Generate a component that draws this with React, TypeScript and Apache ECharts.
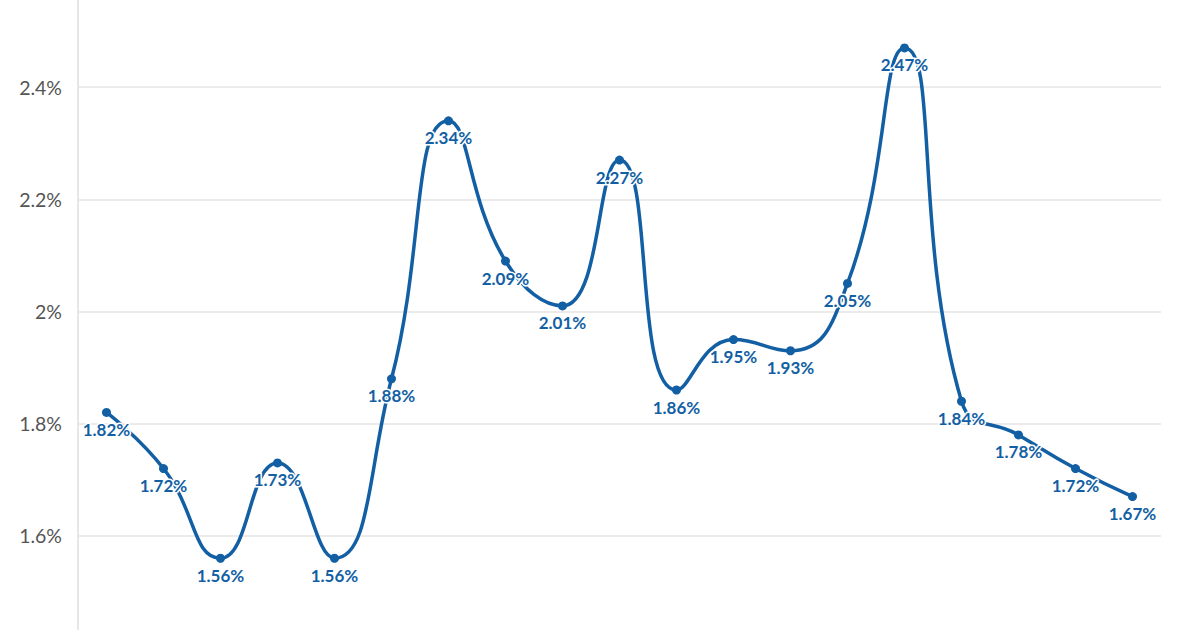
import React, { useEffect, useRef } from "react";
import * as echarts from "echarts";

const categories = [
  "1", "2", "3", "4", "5", "6", "7", "8", "9", "10",
  "11", "12", "13", "14", "15", "16", "17", "18", "19",
];
const values = [
  1.82, 1.72, 1.56, 1.73, 1.56, 1.88, 2.34, 2.09, 2.01, 2.27,
  1.86, 1.95, 1.93, 2.05, 2.47, 1.84, 1.78, 1.72, 1.67,
];
const yMin = 1.4;
const yMax = 2.6;
const yStep = 0.2;
const shownTicks = ["1.6%", "1.8%", "2%", "2.2%", "2.4%"];

export default function App() {
  const ref = useRef<HTMLDivElement>(null);
  useEffect(() => {
    document.body.style.margin = "0";
    const chart = echarts.init(ref.current!, null, { renderer: "svg" });
    chart.setOption({
      animation: false,
      backgroundColor: "#ffffff",
      grid: { left: 78, right: 39, top: 0, bottom: 0, containLabel: false },
      xAxis: {
        type: "category",
        data: categories,
        boundaryGap: true,
        axisLine: { show: false },
        axisTick: { show: false },
        axisLabel: { show: false },
        splitLine: { show: false },
      },
      yAxis: {
        type: "value",
        min: yMin,
        max: yMax,
        interval: yStep,
        axisLine: { show: true, lineStyle: { color: "#e6e6e6", width: 2 } },
        axisTick: { show: false },
        axisLabel: {
          color: "#555555",
          fontFamily: "Lato",
          fontSize: 19.5,
          margin: 16,
          formatter: (v: number) => {
            const s = `${Math.round(v * 10) / 10}%`;
            return shownTicks.includes(s) ? s : "";
          },
        },
        splitLine: { show: true, lineStyle: { color: "#ebebeb", width: 2 } },
      },
      series: [
        {
          type: "line",
          data: values,
          smooth: 0.5,
          symbol: "circle",
          symbolSize: 9,
          lineStyle: { color: "#135fa4", width: 3.5 },
          itemStyle: { color: "#135fa4" },
          label: {
            show: true,
            position: "bottom",
            distance: 4,
            color: "#135fa4",
            fontFamily: "Lato",
            fontWeight: "bold",
            fontSize: 17,
            textBorderColor: "#ffffff",
            textBorderWidth: 3,
            formatter: (p: any) => `${p.value.toFixed(2)}%`,
          },
        },
      ],
    });
    return () => chart.dispose();
  }, []);
  return (
    <div style={{ position: "relative", width: 1200, height: 630, overflow: "hidden", background: "#fff" }}>
      <div ref={ref} style={{ position: "absolute", left: 0, top: -25, width: 1200, height: 673 }} />
    </div>
  );
}
